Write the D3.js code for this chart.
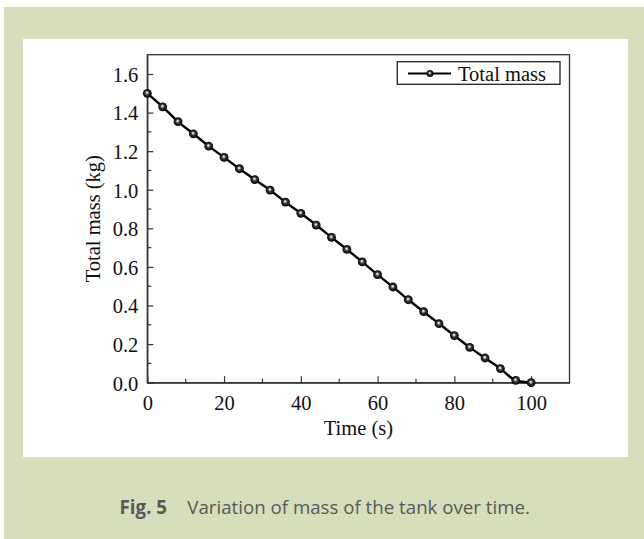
<!DOCTYPE html>
<html>
<head>
<meta charset="utf-8">
<script src="https://cdn.jsdelivr.net/npm/d3@7"></script>
<style>
  body { margin: 0; background: #fff; }
  .tick_lbl { font-family: "Liberation Serif", "Times New Roman", serif; font-size: 20.5px; fill: #111; }
  .caption { font-family: "Open Sans", "Noto Sans", sans-serif; fill: #595959; }
</style>
</head>
<body>
<div id="chart"></div>
<script>
// time (s) and total mass (kg)
const time_s = [0, 4, 8, 12, 16, 20, 24, 28, 32, 36, 40, 44, 48, 52, 56, 60, 64, 68, 72, 76, 80, 84, 88, 92, 96, 100];
const mass_kg = [1.500, 1.430, 1.353, 1.290, 1.226, 1.168, 1.109, 1.053, 0.998, 0.936, 0.878, 0.817, 0.753,
                 0.691, 0.626, 0.560, 0.496, 0.430, 0.368, 0.306, 0.244, 0.183, 0.128, 0.073, 0.012, 0.000];

const xTicks = [0, 20, 40, 60, 80, 100];
const xMinorTicks = [10, 30, 50, 70, 90];
const yTicks = [0.0, 0.2, 0.4, 0.6, 0.8, 1.0, 1.2, 1.4, 1.6];
const yMinorTicks = [0.1, 0.3, 0.5, 0.7, 0.9, 1.1, 1.3, 1.5];

const seriesName = "Total mass";
const xTitle = "Time (s)";
const yTitle = "Total mass (kg)";
const captionLabel = "Fig. 5";
const captionText = "Variation of mass of the tank over time.";

const W = 644, H = 539;
const plot = {left: 147.3, right: 569.5, top: 54.7, bottom: 382.7};

const svg = d3.select("#chart").append("svg")
    .attr("width", W).attr("height", H);

// page backgrounds
svg.append("rect").attr("x", 4).attr("y", 7).attr("width", W - 4).attr("height", H - 7)
    .attr("fill", "#d7debb");
svg.append("rect").attr("x", 23).attr("y", 39).attr("width", 605).attr("height", 418)
    .attr("fill", "#ffffff");

const xScale = d3.scaleLinear().domain([0, 110]).range([plot.left, plot.right]);
const yScale = d3.scaleLinear().domain([0, 1.7]).range([plot.bottom, plot.top]);

const defs = svg.append("defs");
const grad = defs.append("radialGradient").attr("id", "ball")
    .attr("cx", "0.5").attr("cy", "0.5").attr("r", "0.5")
    .attr("fx", "0.45").attr("fy", "0.4");
grad.append("stop").attr("offset", "0%").attr("stop-color", "#ffffff");
grad.append("stop").attr("offset", "18%").attr("stop-color", "#c8c8c8");
grad.append("stop").attr("offset", "45%").attr("stop-color", "#3a3a3a");
grad.append("stop").attr("offset", "100%").attr("stop-color", "#000");

// frame
svg.append("rect")
    .attr("x", plot.left).attr("y", plot.top)
    .attr("width", plot.right - plot.left).attr("height", plot.bottom - plot.top)
    .attr("fill", "none").attr("stroke", "#333").attr("stroke-width", 1.3);

// x axis
const xAxis = svg.append("g").attr("transform", "translate(0," + plot.bottom + ")")
    .call(d3.axisBottom(xScale).tickValues(xTicks).tickSizeInner(-6.5).tickSizeOuter(0)
          .tickPadding(13).tickFormat(d3.format("d")));
xAxis.select(".domain").attr("stroke", "#333").attr("stroke-width", 1.3);
xAxis.selectAll(".tick line").attr("stroke", "#333").attr("stroke-width", 1.2);
xAxis.selectAll(".tick text").attr("class", "tick_lbl").attr("font-family", null).attr("font-size", null);
xAxis.selectAll(".minor").data(xMinorTicks).enter().append("line")
    .attr("class", "minor")
    .attr("x1", d => xScale(d)).attr("x2", d => xScale(d))
    .attr("y1", 0).attr("y2", -4).attr("stroke", "#333").attr("stroke-width", 1.2);

// y axis
const yAxis = svg.append("g").attr("transform", "translate(" + plot.left + ",0)")
    .call(d3.axisLeft(yScale).tickValues(yTicks).tickSizeInner(-6).tickSizeOuter(0)
          .tickPadding(9).tickFormat(d3.format(".1f")));
yAxis.select(".domain").attr("stroke", "#333").attr("stroke-width", 1.3);
yAxis.selectAll(".tick line").attr("stroke", "#333").attr("stroke-width", 1.2);
yAxis.selectAll(".tick text").attr("class", "tick_lbl").attr("font-family", null).attr("font-size", null)
    .attr("dy", "0.36em");
yAxis.selectAll(".minor").data(yMinorTicks).enter().append("line")
    .attr("class", "minor")
    .attr("y1", d => yScale(d)).attr("y2", d => yScale(d))
    .attr("x1", 0).attr("x2", 4).attr("stroke", "#333").attr("stroke-width", 1.2);

// axis titles
svg.append("text").attr("class", "tick_lbl")
    .attr("x", (plot.left + plot.right) / 2).attr("y", 435)
    .attr("text-anchor", "middle").text(xTitle);
svg.append("text").attr("class", "tick_lbl")
    .attr("transform", "translate(100," + ((plot.top + plot.bottom) / 2) + ") rotate(-90)")
    .attr("text-anchor", "middle").text(yTitle);

// series
const points = time_s.map((t, i) => [t, mass_kg[i]]);
const lineGen = d3.line()
    .x(d => xScale(d[0]))
    .y(d => yScale(d[1]))
    .curve(d3.curveMonotoneX);

svg.append("path")
    .attr("d", lineGen(points))
    .attr("fill", "none").attr("stroke", "#000").attr("stroke-width", 2.4);

svg.selectAll(".pt").data(points).enter().append("circle")
    .attr("class", "pt")
    .attr("cx", d => xScale(d[0])).attr("cy", d => yScale(d[1]))
    .attr("r", 4.4).attr("fill", "url(#ball)");

// legend
const lg = svg.append("g");
lg.append("rect").attr("x", 397.3).attr("y", 61.7).attr("width", 162.7).attr("height", 22.6)
    .attr("fill", "#fff").attr("stroke", "#222").attr("stroke-width", 1.3);
lg.append("line").attr("x1", 408).attr("x2", 451).attr("y1", 73.5).attr("y2", 73.5)
    .attr("stroke", "#000").attr("stroke-width", 2.2);
lg.append("circle").attr("cx", 430).attr("cy", 73.5).attr("r", 3.5).attr("fill", "url(#ball)");
lg.append("text").attr("class", "tick_lbl").attr("x", 458).attr("y", 80.5).text(seriesName);

// caption
svg.append("text").attr("class", "caption")
    .attr("x", 167).attr("y", 514).attr("text-anchor", "end")
    .attr("font-size", 18.7).attr("font-weight", "bold").text(captionLabel);
svg.append("text").attr("class", "caption")
    .attr("x", 187.3).attr("y", 514)
    .attr("font-size", 18.7).text(captionText);
</script>
</body>
</html>
